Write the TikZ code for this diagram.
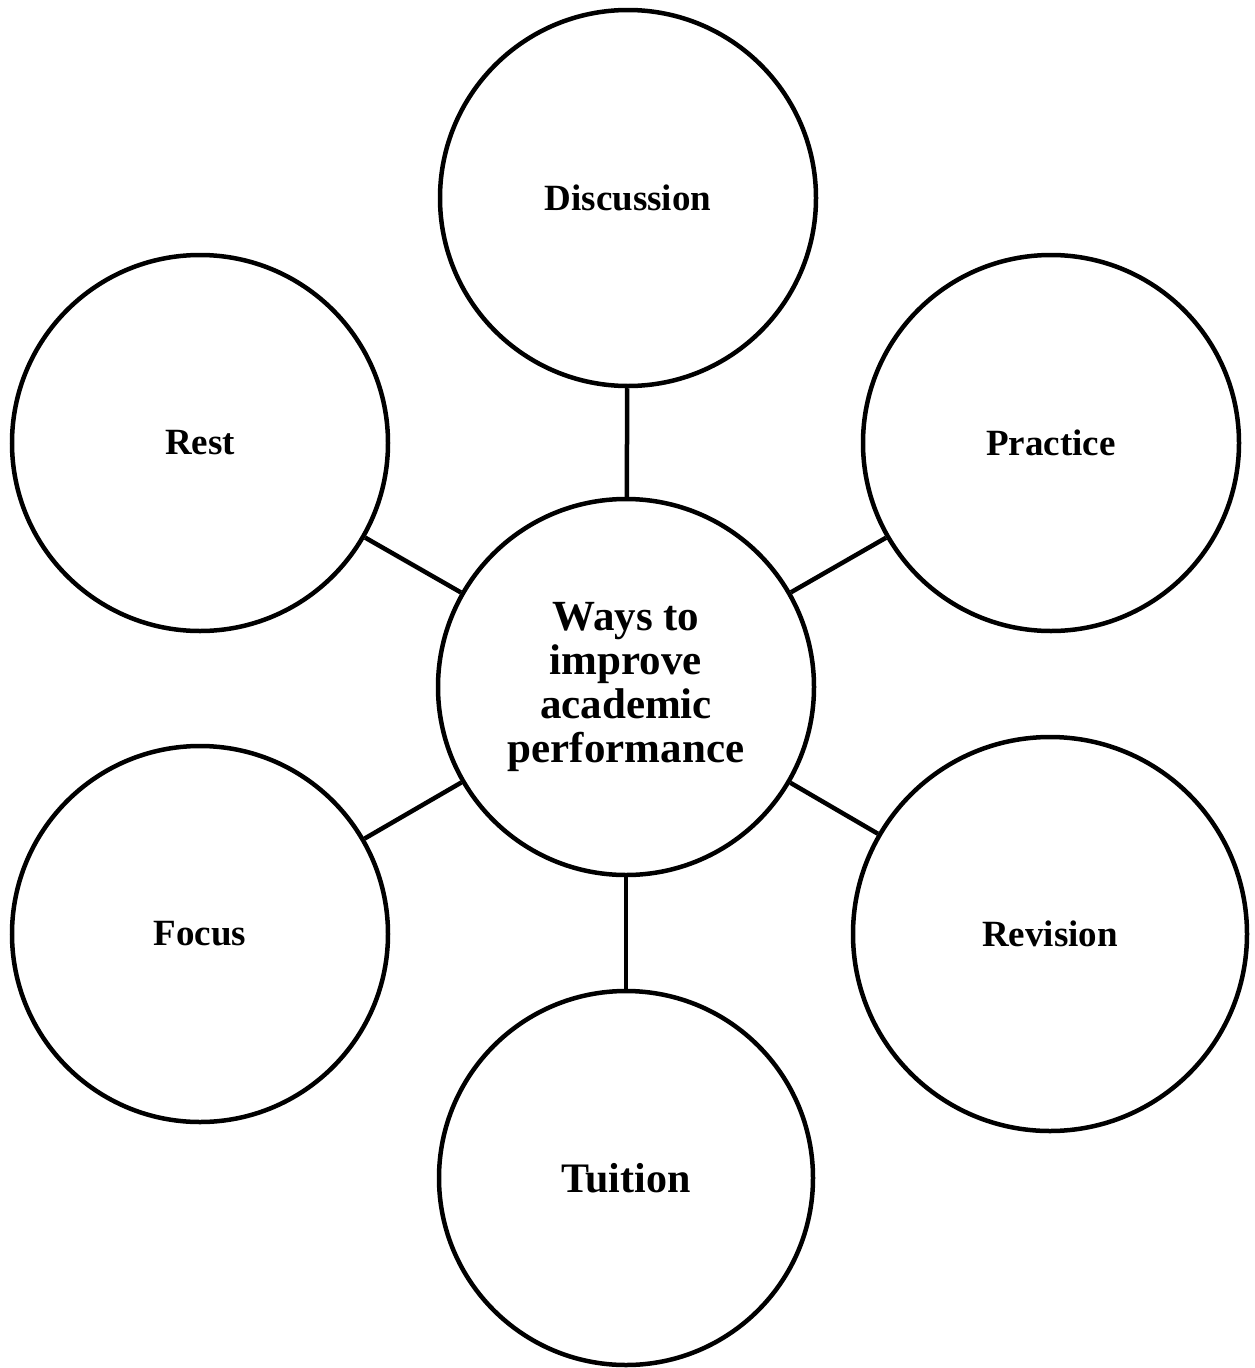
\documentclass[tikz,border=0pt]{standalone}
\usepackage{fontspec}
\setmainfont{Liberation Serif}
\begin{document}
\begin{tikzpicture}[x=1pt,y=-1pt,
  bubble/.style={circle,draw=black,line width=4.5pt,fill=white,inner sep=0pt,
    align=center,font=\fontsize{37}{41}\selectfont\bfseries},
  link/.style={line width=4.5pt,draw=black}]
  \useasboundingbox (0,0) rectangle (1254,1368);
  % central idea
  \node[bubble,minimum size=376pt,font=\fontsize{43}{44}\selectfont\bfseries] (hub) at (626,687)
    {Ways to\\improve\\academic\\performance};
  % surrounding ideas
  \node[bubble,minimum size=376pt] (disc) at (628,198) {Discussion};
  \node[bubble,minimum size=376pt] (rest) at (200,443) {Rest};
  \node[bubble,minimum size=376pt] (prac) at (1051,443) {Practice};
  \node[bubble,minimum size=376pt] (focus) at (200,934) {Focus};
  \node[bubble,minimum size=394pt] (rev) at (1050,934) {Revision};
  \node[bubble,minimum size=374pt,font=\fontsize{42}{44}\selectfont\bfseries] (tuit) at (626,1178) {Tuition};
  % spokes
  \draw[link] (hub) -- (disc);
  \draw[link] (hub) -- (rest);
  \draw[link] (hub) -- (prac);
  \draw[link] (hub) -- (focus);
  \draw[link] (hub) -- (rev);
  \draw[link] (hub) -- (tuit);
\end{tikzpicture}
\end{document}
